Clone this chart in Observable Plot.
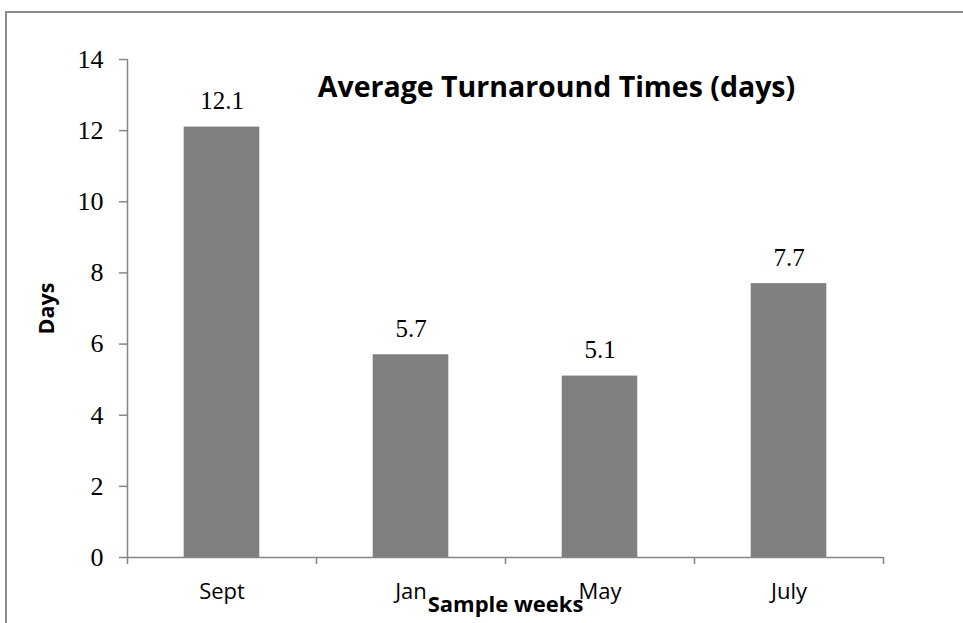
<!DOCTYPE html>
<html>
<head>
<meta charset="utf-8">
<script src="https://cdn.jsdelivr.net/npm/d3@7"></script>
<script src="https://cdn.jsdelivr.net/npm/@observablehq/plot@0.6"></script>
<style>
  html, body { margin: 0; padding: 0; background: #fff; overflow: hidden; }
  #wrap { position: relative; width: 963px; height: 623px; }
  #border { position: absolute; left: 5px; top: 11px; width: 1100px; height: 800px; border: 2px solid #8c8c8c; box-sizing: border-box; }
  #chart { position: absolute; left: 0; top: 0; }
</style>
</head>
<body>
<div id="wrap"><div id="border"></div><div id="chart"></div></div>
<script>
const categories = ["Sept", "Jan", "May", "July"];
const days = [12.1, 5.7, 5.1, 7.7];
const yTicks = [0, 2, 4, 6, 8, 10, 12, 14];
const title = "Average Turnaround Times (days)";
const xLabel = "Sample weeks";
const yLabel = "Days";

const data = categories.map((c, i) => ({ i, category: c, days: days[i] }));
const axisGray = "#868686";
const serif = "Liberation Serif";
const sans = "Open Sans";

const chart = Plot.plot({
  width: 963,
  height: 623,
  marginLeft: 127,
  marginRight: 80,
  marginTop: 59,
  marginBottom: 66,
  x: { domain: [0, categories.length], axis: null },
  y: { domain: [0, 14], axis: null },
  style: { background: "transparent", overflow: "visible" },
  marks: [
    Plot.rectY(data, { x1: d => d.i + 0.3, x2: d => d.i + 0.7, y: "days", fill: "#808080" }),
    Plot.ruleX([0], { stroke: axisGray, strokeWidth: 1.5 }),
    Plot.ruleY([0], { stroke: axisGray, strokeWidth: 1.5 }),
    Plot.axisY({ ticks: yTicks, tickSize: 8, tickPadding: 16, stroke: axisGray, strokeWidth: 1.5,
      fontFamily: serif, fontSize: 26, fill: "#000", label: null }),
    Plot.axisX({ ticks: d3.range(categories.length + 1), tickSize: 7, tickFormat: () => "",
      stroke: axisGray, strokeWidth: 1.5, label: null }),
    Plot.text(data, { x: d => d.i + 0.5, frameAnchor: "bottom", text: "category", dy: 41,
      lineAnchor: "bottom", fontFamily: sans, fontSize: 22, fill: "#000" }),
    Plot.text(data, { x: d => d.i + 0.5, y: "days", text: d => d.days.toFixed(1), dy: -18,
      lineAnchor: "bottom", fontFamily: serif, fontSize: 25, fill: "#000" }),
    Plot.text([title], { frameAnchor: "top", dx: 51, dy: 28, lineAnchor: "middle",
      fontFamily: sans, fontWeight: "bold", fontSize: 28.5, fill: "#000" }),
    Plot.text([yLabel], { frameAnchor: "left", textAnchor: "middle", dx: -80, rotate: -90, lineAnchor: "middle",
      fontFamily: sans, fontWeight: "bold", fontSize: 21.5, fill: "#000" }),
    Plot.text([xLabel], { frameAnchor: "bottom", dy: 54, lineAnchor: "bottom",
      fontFamily: sans, fontWeight: "bold", fontSize: 22, fill: "#000" })
  ]
});
document.getElementById("chart").appendChild(chart);
</script>
</body>
</html>
